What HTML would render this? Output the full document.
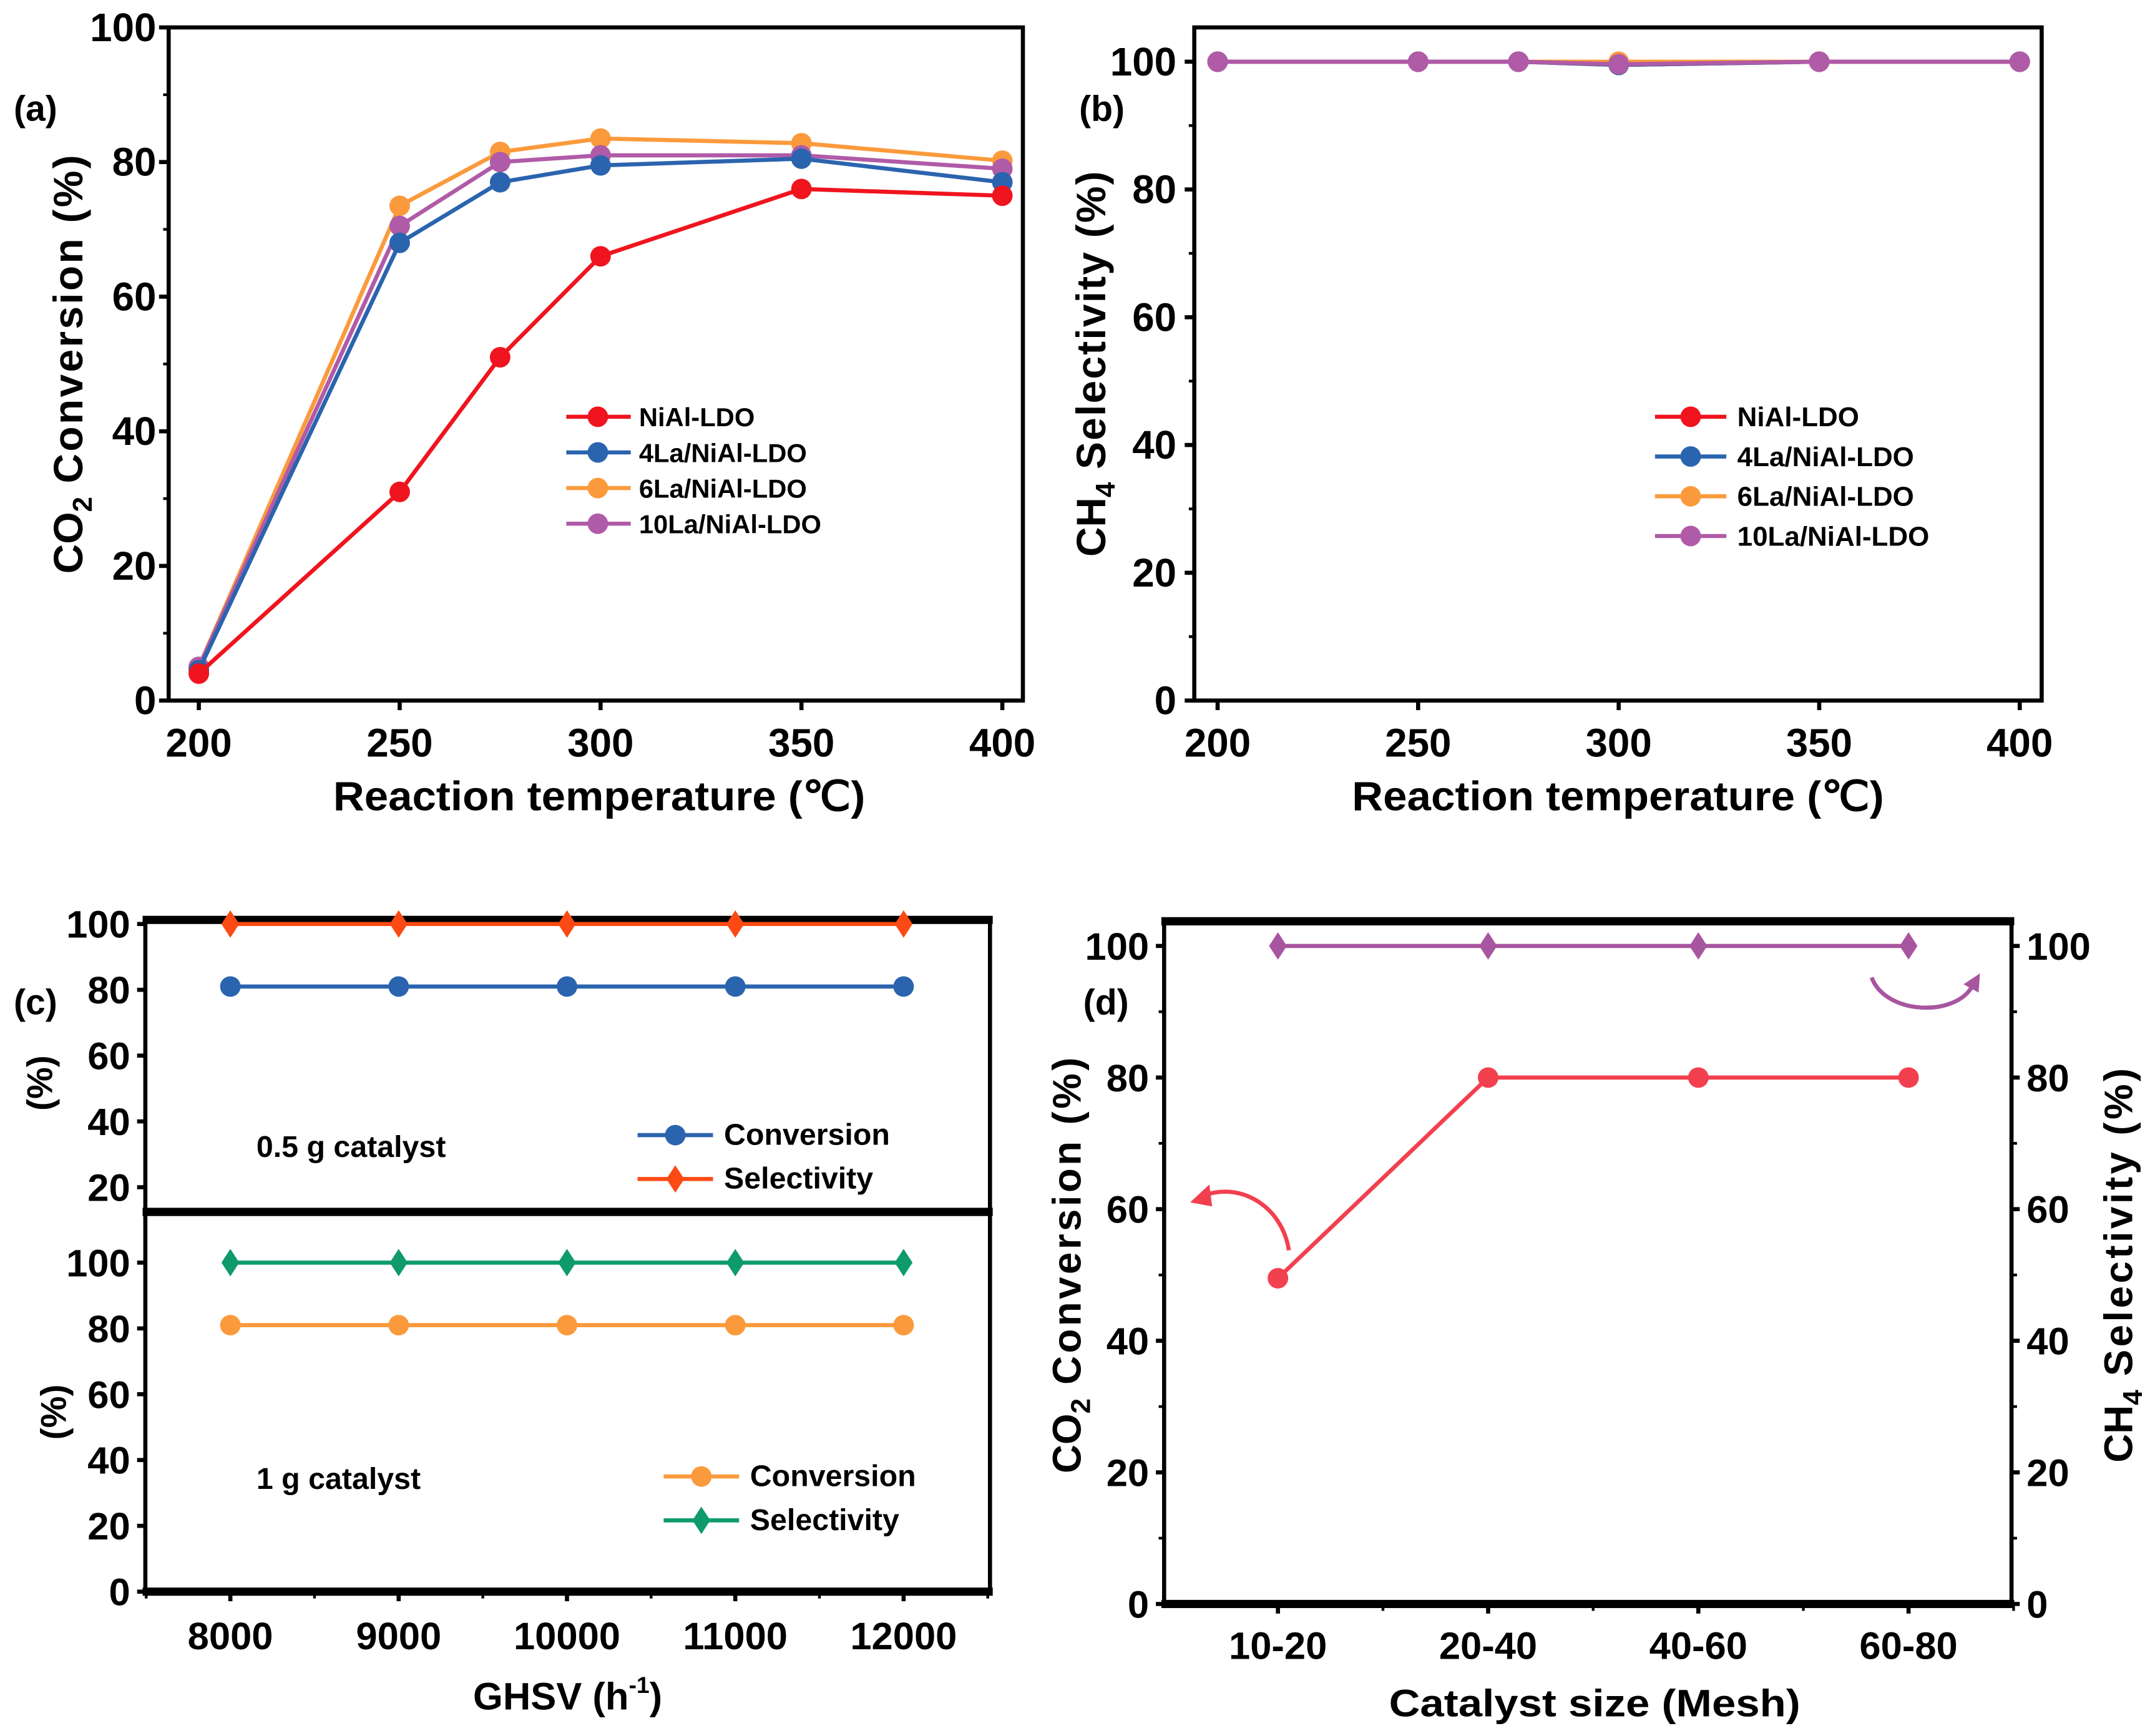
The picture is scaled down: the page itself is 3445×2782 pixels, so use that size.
<!DOCTYPE html>
<html><head><meta charset="utf-8"><style>
html,body{margin:0;padding:0;background:#fff;}
svg{display:block;font-family:"Liberation Sans",sans-serif;font-weight:bold;}
</style></head><body>
<svg id="fig" width="3445" height="2782" viewBox="0 0 1568 1266.3" preserveAspectRatio="none" xmlns="http://www.w3.org/2000/svg"></svg>
<script>
// ---- data ----
const tempsA = [200,250,275,300,350,400];
const niAl = [4,31,51,66,76,75];
const la4 = [4.5,68,77,79.5,80.5,77];
const la6 = [5,73.5,81.5,83.5,82.8,80.2];
const la10 = [5,70.5,80,81,81,79];
const selNiAl = [100,100,100,99.5,100,100];
const sel4 = [100,100,100,99.5,100,100];
const sel6 = [100,100,100,100,100,100];
const sel10 = [100,100,100,99.6,100,100];
const ghsv = [8000,9000,10000,11000,12000];
const convHalf = [81,81,81,81,81];
const selHalf = [100,100,100,100,100];
const convOne = [81,81,81,81,81];
const selOne = [100,100,100,100,100];
const meshCats = ["10-20","20-40","40-60","60-80"];
const meshConv = [49.5,80,80,80];
const meshSel = [100,100,100,100];
const tickTemps = ["200","250","300","350","400"];
const tickPct = ["0","20","40","60","80","100"];
const tickGhsv = ["8000","9000","10000","11000","12000"];

const NS="http://www.w3.org/2000/svg";
const svg=document.getElementById('fig');
function el(tag,attrs,parent,txt){const e=document.createElementNS(NS,tag);for(const k in attrs)e.setAttribute(k,attrs[k]);if(txt!==undefined)e.textContent=txt;(parent||svg).appendChild(e);return e;}
function text(x,y,s,size,anchor,parent,name,extra){
  const t=el('text',Object.assign({x:x,y:y,'font-size':size,'text-anchor':anchor||'middle',fill:'#000'},extra||{}),parent,s);
  
  
  return t;}
function line(x1,y1,x2,y2,stroke,w,parent,name){const l=el('line',{x1,y1,x2,y2,stroke,'stroke-width':w},parent);
  
  
  return l;}
function marker(x,y,color,shape,parent,name){
  let m;
  if(shape==='d'){m=el('polygon',{points:`${x},${y-10} ${x+6.5},${y} ${x},${y+10} ${x-6.5},${y}`,fill:color},parent);}
  else{m=el('circle',{cx:x,cy:y,r:7.5,fill:color},parent);}
  
  
  return m;}
function series(xs,ys,fx,fy,color,shape,parent,name,lw){
  const g=el('g',{},parent);
  
  
  const pts=xs.map((x,i)=>fx(x,i)+','+fy(ys[i])).join(' ');
  const p=el('polyline',{points:pts,fill:'none',stroke:color,'stroke-width':lw||3},g);
  
  
  xs.forEach((x,i)=>marker(fx(x,i),fy(ys[i]),color,shape,g,name+'-point'));
  return g;}
function legend(x,y,color,shape,label,parent,name,size,tx){
  const g=el('g',{},parent);
  
  
  line(x,y,x+(tx?tx-x-8:47),y,color,3,g,name+'-line');
  const lx=tx?(x+(tx-8-x)/2):x+23;
  marker(lx,y,color,shape,g,name+'-marker');
  text(tx||x+53,y+7,label,size||19,'start',g,name+'-label');
  return g;}
function box(x1,y1,x2,y2,parent,name,w){const r=el('rect',{x:x1,y:y1,width:x2-x1,height:y2-y1,fill:'none',stroke:'#000','stroke-width':w||3},parent);
  
  }
const C={red:'#f0141e',blue:'#2b64ae',orange:'#fb9a3c',purple:'#b05ba7',ored:'#fb4a14',green:'#0e9a6c',pink:'#f2404f',mag:'#a855a0'};

// ---- panel a ----
{const g=el('g',{});
 const fx=t=>145+(t-200)*2.93, fy=v=>511-v*4.91;
 box(123,20,746,511,g,'plot-frame-a');
 tickPct.forEach(s=>{const y=fy(+s);line(116,y,123,y,'#000',3,g,'y-tick');text(114,y+10,s,29,'end',g,'y-tick-label');});
 [10,30,50,70,90].forEach(v=>line(119,fy(v),123,fy(v),'#000',2,g,'y-minor-tick'));
 tickTemps.forEach(s=>{const x=fx(+s);line(x,511,x,518,'#000',3,g,'x-tick');text(x,552,s,29,'middle',g,'x-tick-label');});
 text(437,591,'Reaction temperature (℃)',30,'middle',g,'x-axis-title',{textLength:388,lengthAdjust:'spacingAndGlyphs'});
 const yt=text(0,0,'',30,'middle',g,'y-axis-title',{transform:'translate(60,265) rotate(-90)'});
 yt.innerHTML='CO<tspan font-size="20" dy="7">2</tspan><tspan dy="-7" letter-spacing="1.5"> Conversion (%)</tspan>';
 text(10,88,'(a)',26,'start',g,'panel-label-a');
 series(tempsA,la6,fx,fy,C.orange,'c',g,'series-6la');
 series(tempsA,la10,fx,fy,C.purple,'c',g,'series-10la');
 series(tempsA,la4,fx,fy,C.blue,'c',g,'series-4la');
 series(tempsA,niAl,fx,fy,C.red,'c',g,'series-nial');
 const L=[['NiAl-LDO',C.red],['4La/NiAl-LDO',C.blue],['6La/NiAl-LDO',C.orange],['10La/NiAl-LDO',C.purple]];
 L.forEach((l,i)=>legend(413,304+i*26,l[1],'c',l[0],g,'legend-entry',19));
}
// ---- panel b ----
{const g=el('g',{});
 const fx=t=>888+(t-200)*2.925, fy=v=>511-v*4.66;
 box(871,20,1489,511,g,'plot-frame-b');
 tickPct.forEach(s=>{const y=fy(+s);line(864,y,871,y,'#000',3,g,'y-tick');text(858,y+10,s,29,'end',g,'y-tick-label');});
 [10,30,50,70,90].forEach(v=>line(867,fy(v),871,fy(v),'#000',2,g,'y-minor-tick'));
 tickTemps.forEach(s=>{const x=fx(+s);line(x,511,x,518,'#000',3,g,'x-tick');text(x,552,s,29,'middle',g,'x-tick-label');});
 text(1180,591,'Reaction temperature (℃)',30,'middle',g,'x-axis-title',{textLength:388,lengthAdjust:'spacingAndGlyphs'});
 const yt=text(0,0,'',30,'middle',g,'y-axis-title',{transform:'translate(806,265) rotate(-90)'});
 yt.innerHTML='CH<tspan font-size="20" dy="7">4</tspan><tspan dy="-7" letter-spacing="1"> Selectivity (%)</tspan>';
 text(787,88,'(b)',26,'start',g,'panel-label-b');
 series(tempsA,sel6,fx,fy,C.orange,'c',g,'series-6la');
 series(tempsA,selNiAl,fx,fy,C.red,'c',g,'series-nial');
 series(tempsA,sel4,fx,fy,C.blue,'c',g,'series-4la');
 series(tempsA,sel10,fx,fy,C.purple,'c',g,'series-10la');
 const L=[['NiAl-LDO',C.red],['4La/NiAl-LDO',C.blue],['6La/NiAl-LDO',C.orange],['10La/NiAl-LDO',C.purple]];
 L.forEach((l,i)=>legend(1207,304+i*29,l[1],'c',l[0],g,'legend-entry',20,1267));
}
// ---- panel c ----
{const g=el('g',{});
 const fx=v=>168+(v-8000)*0.12275;
 const fyT=v=>914-v*2.4, fyB=v=>1161-v*2.4;
 line(106,671,106,1161,'#000',3,g,'left-axis');
 line(722,671,722,1161,'#000',3,g,'right-axis');
 line(104,671,724,671,'#000',6,g,'top-border');
 line(104,884,724,884,'#000',6,g,'divider');
 line(104,1161,724,1161,'#000',6,g,'bottom-axis');
 ["20","40","60","80","100"].forEach(s=>{const y=fyT(+s);line(100,y,106,y,'#000',3,g,'y-tick-top');text(95,y+10,s,28,'end',g,'y-tick-label-top');});
 tickPct.forEach(s=>{const y=fyB(+s);line(100,y,106,y,'#000',3,g,'y-tick-bottom');text(95,y+10,s,28,'end',g,'y-tick-label-bottom');});
 tickGhsv.forEach(s=>{const x=fx(+s);line(x,1161,x,1168,'#000',3,g,'x-tick');text(x,1203,s,28,'middle',g,'x-tick-label');});
 [7500,8500,9500,10500,11500,12500].forEach(v=>line(fx(v),1161,fx(v),1166,'#000',2,g,'x-minor-tick'));
 const xt=text(414,1247,'',28,'middle',g,'x-axis-title');
 xt.innerHTML='GHSV (h<tspan font-size="17" dy="-12">-1</tspan><tspan dy="12">)</tspan>';
 text(0,0,'(%)',26,'middle',g,'y-axis-title-top',{transform:'translate(38,790) rotate(-90)'});
 text(0,0,'(%)',26,'middle',g,'y-axis-title-bottom',{transform:'translate(48,1030) rotate(-90)'});
 text(10,740,'(c)',26,'start',g,'panel-label-c');
 text(187,844,'0.5 g catalyst',22,'start',g,'annotation-0-5g');
 text(187,1086,'1 g catalyst',22,'start',g,'annotation-1g');
 series(ghsv,convHalf,fx,fyT,C.blue,'c',g,'series-conversion-0-5g');
 series(ghsv,selHalf,fx,fyT,C.ored,'d',g,'series-selectivity-0-5g');
 series(ghsv,convOne,fx,fyB,C.orange,'c',g,'series-conversion-1g');
 series(ghsv,selOne,fx,fyB,C.green,'d',g,'series-selectivity-1g');
 legend(465,828,C.blue,'c','Conversion',g,'legend-conversion-0-5g',22,528);
 legend(465,860,C.ored,'d','Selectivity',g,'legend-selectivity-0-5g',22,528);
 legend(484,1077,C.orange,'c','Conversion',g,'legend-conversion-1g',22,547);
 legend(484,1109,C.green,'d','Selectivity',g,'legend-selectivity-1g',22,547);
}
// ---- panel d ----
{const g=el('g',{});
 const fx=(c,i)=>932+i*153.3, fy=v=>1170-v*4.8;
 line(849,672,849,1170,'#000',3,g,'left-axis');
 line(1467,672,1467,1170,'#000',3,g,'right-axis');
 line(847,672,1469,672,'#000',6,g,'top-border');
 line(847,1170,1469,1170,'#000',6,g,'bottom-axis');
 tickPct.forEach(s=>{const y=fy(+s);line(843,y,849,y,'#000',3,g,'y-tick-left');text(838,y+10,s,28,'end',g,'y-tick-label-left');
   line(1467,y,1473,y,'#000',3,g,'y-tick-right');text(1478,y+10,s,28,'start',g,'y-tick-label-right');});
 [10,30,50,70,90].forEach(v=>{line(845,fy(v),849,fy(v),'#000',2,g,'y-minor-tick');line(1467,fy(v),1471,fy(v),'#000',2,g,'y-minor-tick');});
 meshCats.forEach((s,i)=>{const x=fx(s,i);line(x,1170,x,1177,'#000',3,g,'x-tick');text(x,1210,s,28,'middle',g,'x-tick-label');
   line(x+76.6,1170,x+76.6,1175,'#000',2,g,'x-minor-tick');});
 text(1163,1252,'Catalyst size (Mesh)',28,'middle',g,'x-axis-title',{textLength:300,lengthAdjust:'spacingAndGlyphs'});
 const yl=text(0,0,'',29,'middle',g,'y-axis-title-left',{transform:'translate(788,922) rotate(-90)'});
 yl.innerHTML='CO<tspan font-size="20" dy="7">2</tspan><tspan dy="-7" letter-spacing="2"> Conversion (%)</tspan>';
 const yr=text(0,0,'',29,'middle',g,'y-axis-title-right',{transform:'translate(1555,922) rotate(-90)'});
 yr.innerHTML='CH<tspan font-size="20" dy="7">4</tspan><tspan dy="-7" letter-spacing="2"> Selectivity (%)</tspan>';
 text(790,740,'(d)',26,'start',g,'panel-label-d');
 series(meshCats,meshSel,fx,fy,C.mag,'d',g,'series-selectivity');
 series(meshCats,meshConv,fx,fy,C.pink,'c',g,'series-conversion');
 const a1=el('path',{d:'M940,912 C935,880 905,862 878,872',fill:'none',stroke:C.pink,'stroke-width':3},g);
 
 
 const h1=el('polygon',{points:'868,877 882,864 884,880',fill:C.pink},g);
 
 
 const a2=el('path',{d:'M1365,713 C1375,740 1425,742 1438,720',fill:'none',stroke:C.mag,'stroke-width':3},g);
 
 
 const h2=el('polygon',{points:'1444,710 1432,718 1443,724',fill:C.mag},g);
 
 
}
</script>
</body></html>
